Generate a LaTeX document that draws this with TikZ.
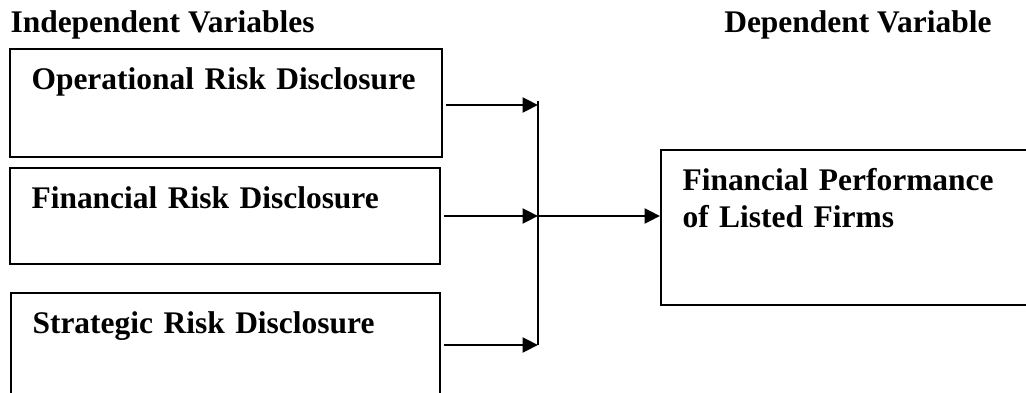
\documentclass[tikz,border=0pt]{standalone}
\usepackage{fontspec}
\setmainfont{Liberation Serif}
\usepackage{tikz}
\usetikzlibrary{arrows.meta,positioning,calc}

\begin{document}
\begin{tikzpicture}[x=0.375pt, y=-0.375pt,
		font=\fontsize{11.8}{13.9}\selectfont\bfseries,
		block/.style={draw=black, line width=0.9pt, anchor=north west, align=left, inner xsep=8pt, inner ysep=0pt, text height=15pt}
		]
		\useasboundingbox (0,0) rectangle (1026,392);
		\clip (0,0) rectangle (1026,392);
		\node[anchor=base west, inner sep=0pt] (iv) at (10,33) {Independent Variables};
		\node[anchor=base east, inner sep=0pt] (dv) at (992,33) {Dependent Variable};
		\node[block, text width=146pt, text depth=25.5pt] (op) at (9,48) {\mbox{Operational Risk Disclosure}};
		\node[block, text width=145.25pt, text depth=21pt] (fn) at (9,167) {Financial Risk Disclosure};
		\node[block, text width=144.9pt, text depth=24.75pt] (st) at (10,292) {Strategic Risk Disclosure};
		\node[block, text width=126.5pt, text depth=43.1pt] (perf) at (660,149) {Financial Performance\\of Listed Firms};
		\coordinate (top) at (538,101);
		\coordinate (j1) at (538,105);
		\coordinate (mid) at (538,216);
		\coordinate (bot) at (538,345);
		\draw[line width=0.7pt] (top) -- (bot);
		\draw[-{Triangle[length=5.8pt,width=5.6pt]}, line width=0.9pt, shorten <=0.8pt] (op.east |- j1) -- (j1);
		\draw[-{Triangle[length=5.8pt,width=5.6pt]}, line width=0.9pt, shorten <=0.8pt] (fn.east |- mid) -- (mid);
		\draw[-{Triangle[length=5.8pt,width=5.6pt]}, line width=0.9pt, shorten <=0.8pt] (st.east |- bot) -- (bot);
		\draw[-{Triangle[length=5.8pt,width=5.6pt]}, line width=0.9pt] (mid) -- (mid -| perf.west);
\end{tikzpicture}
\end{document}
